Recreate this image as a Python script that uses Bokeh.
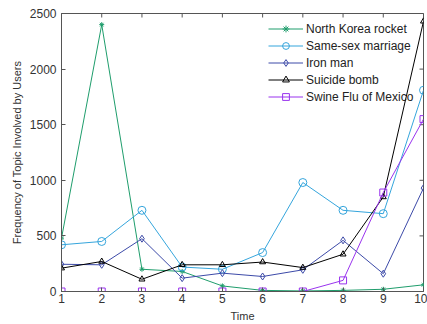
import numpy as np
from bokeh.plotting import figure
from bokeh.models import FixedTicker, Range1d
from bokeh.embed import file_html
from bokeh.resources import INLINE

time = [1, 2, 3, 4, 5, 6, 7, 8, 9, 10]
north_korea_rocket = [480, 2400, 200, 180, 50, 10, 5, 10, 20, 60]
same_sex_marriage = [420, 450, 730, 220, 200, 350, 980, 730, 700, 1810]
iron_man = [245, 240, 475, 120, 165, 135, 195, 460, 160, 930]
suicide_bomb = [210, 270, 110, 240, 240, 265, 215, 335, 850, 2430]
swine_flu = [0, 0, 0, 0, 0, 0, 0, 100, 890, 1550]

x_ticks = [1, 2, 3, 4, 5, 6, 7, 8, 9, 10]
y_ticks = [0, 500, 1000, 1500, 2000, 2500]
x_min, x_max = 1, 10
y_min, y_max = 0, 2500

FONT = "Liberation Sans"
AXIS_COLOR = "#555555"
TEXT_COLOR = "#333333"

p = figure(width=427, height=324, output_backend="svg", toolbar_location=None,
           x_range=Range1d(x_min, x_max), y_range=Range1d(y_min, y_max),
           min_border_left=61, min_border_right=4, min_border_top=13, min_border_bottom=33)
p.grid.visible = False
p.outline_line_color = AXIS_COLOR
p.background_fill_color = "white"

for ax in [p.xaxis[0], p.yaxis[0]]:
    ax.major_tick_in = 4
    ax.major_tick_out = 0
    ax.minor_tick_in = 0
    ax.minor_tick_out = 0
    ax.axis_line_color = AXIS_COLOR
    ax.major_tick_line_color = AXIS_COLOR
    ax.major_label_text_font = FONT
    ax.major_label_text_font_size = "12px"
    ax.major_label_text_color = TEXT_COLOR
    ax.axis_label_text_font = FONT
    ax.axis_label_text_font_size = "11px"
    ax.axis_label_text_font_style = "normal"
    ax.axis_label_text_color = TEXT_COLOR

p.xaxis[0].ticker = FixedTicker(ticks=x_ticks)
p.yaxis[0].ticker = FixedTicker(ticks=y_ticks)
p.xaxis[0].axis_label = "Time"
p.yaxis[0].axis_label = "Frequency of Topic Involved by Users"
p.xaxis[0].major_label_standoff = 2
p.yaxis[0].major_label_standoff = 5
p.xaxis[0].axis_label_standoff = 4
p.yaxis[0].axis_label_standoff = 4

# inward ticks on the top and right edges of the box (clipped to frame)
p.scatter(x_ticks, [y_max] * len(x_ticks), marker="dash", angle=np.pi / 2, size=8,
          line_color=AXIS_COLOR, line_width=1)
p.scatter([x_max] * len(y_ticks), y_ticks, marker="dash", size=8,
          line_color=AXIS_COLOR, line_width=1)

series = [
    ("North Korea rocket", north_korea_rocket, "#1f9d6c", "asterisk", 5),
    ("Same-sex marriage", same_sex_marriage, "#35a5dc", "circle", 8),
    ("Iron man", iron_man, "#3c4aa8", "diamond", 7),
    ("Suicide bomb", suicide_bomb, "#000000", "triangle", 6),
    ("Swine Flu of Mexico", swine_flu, "#9933ee", "square", 7),
]
for name, ys, color, marker, size in series:
    p.line(time, ys, line_color=color, line_width=1, legend_label=name)
    p.scatter(time, ys, marker=marker, size=size, line_color=color,
              fill_color=None if marker != "asterisk" else color,
              line_width=1, legend_label=name)

lg = p.legend[0]
lg.location = (207, 186)
lg.background_fill_alpha = 0
lg.border_line_alpha = 0
lg.padding = 0
lg.margin = 0
lg.spacing = 0
lg.glyph_width = 35
lg.glyph_height = 17
lg.label_height = 17
lg.label_standoff = 3
lg.label_text_font = FONT
lg.label_text_font_size = "12px"
lg.label_text_color = "#222222"

open("out.html", "w").write(file_html(p, INLINE))
